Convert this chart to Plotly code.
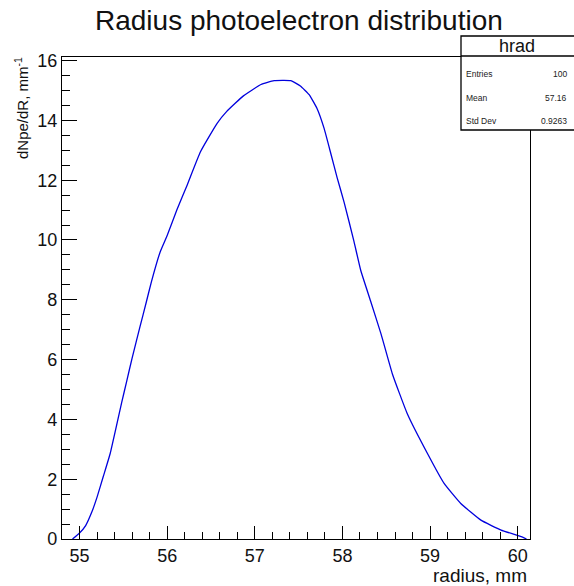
import plotly.graph_objects as go

# Data
radius_mm = [54.92, 55.0, 55.07, 55.14, 55.2, 55.27, 55.35, 55.41, 55.48, 55.54,
             55.6, 55.69, 55.76, 55.82, 55.92, 56.0, 56.11, 56.23, 56.38, 56.57,
             56.68, 56.87, 57.07, 57.22, 57.41, 57.52, 57.62, 57.71, 57.79, 57.87,
             57.94, 58.02, 58.13, 58.21, 58.32, 58.44, 58.57, 58.74, 58.97, 59.16,
             59.35, 59.58, 59.81, 60.04, 60.1]
dnpe_dr = [0.0, 0.2, 0.45, 0.9, 1.4, 2.08, 2.86, 3.63, 4.55, 5.3,
           6.05, 7.1, 7.9, 8.6, 9.6, 10.15, 11.0, 11.85, 12.95, 13.9,
           14.3, 14.82, 15.2, 15.33, 15.33, 15.15, 14.86, 14.4, 13.74, 12.86,
           12.08, 11.25, 9.97, 8.97, 7.97, 6.86, 5.52, 4.19, 2.86, 1.86,
           1.19, 0.63, 0.3, 0.08, 0.0]

x_ticks = [55, 56, 57, 58, 59, 60]
y_ticks = [0, 2, 4, 6, 8, 10, 12, 14, 16]
stats_names = ["Entries", "Mean", "Std Dev"]
stats_values = ["100", "57.16", "0.9263"]

W, H = 574, 586
L, R, T, B = 62, 530, 57, 539  # plot frame in px


def px(x):
    return (x - L) / (R - L)


def py(y):
    return (B - y) / (B - T)


FONT = "Liberation Sans, Arial, Helvetica, sans-serif"

fig = go.Figure()
fig.add_trace(go.Scatter(x=radius_mm, y=dnpe_dr, mode="lines",
                         line=dict(color="#0000dd", width=1.3, shape="spline", smoothing=0.4),
                         showlegend=False, hoverinfo="skip"))

axis_common = dict(showgrid=False, zeroline=False, showline=True, linecolor="black",
                   linewidth=1.3, mirror=True, ticks="inside", tickcolor="black",
                   tickwidth=1.3, tickfont=dict(family=FONT, size=18, color="#111"))

fig.update_xaxes(range=[54.8, 60.14], tickvals=x_ticks, ticklen=13,
                 minor=dict(dtick=0.2, tick0=55, ticklen=7, ticks="inside",
                            tickcolor="black", tickwidth=1.2),
                 **axis_common)
fig.update_yaxes(range=[0, 16.12], tickvals=y_ticks, ticklen=15,
                 minor=dict(dtick=0.5, tick0=0, ticklen=8, ticks="inside",
                            tickcolor="black", tickwidth=1.2),
                 **axis_common)

annotations = [
    dict(text="Radius photoelectron distribution", x=px(299), y=py(20), xref="paper",
         yref="paper", xanchor="center", yanchor="middle", showarrow=False,
         font=dict(family=FONT, size=28, color="#111")),
    dict(text="dNpe/dR, mm<sup>-1</sup>", x=px(21), y=py(55), xref="paper", yref="paper",
         xanchor="center", yanchor="top", textangle=-90, showarrow=False,
         font=dict(family=FONT, size=15, color="#111")),
    dict(text="radius, mm", x=px(529), y=py(575), xref="paper", yref="paper",
         xanchor="right", yanchor="middle", showarrow=False,
         font=dict(family=FONT, size=19, color="#111")),
    dict(text="hrad", x=px(517), y=py(46), xref="paper", yref="paper",
         xanchor="center", yanchor="middle", showarrow=False,
         font=dict(family=FONT, size=18, color="#111")),
]
for i, (n, v) in enumerate(zip(stats_names, stats_values)):
    yy = 74 + 23.5 * i
    annotations.append(dict(text=n, x=px(464), y=py(yy), xref="paper", yref="paper",
                            xanchor="left", yanchor="middle", showarrow=False,
                            font=dict(family=FONT, size=8.5, color="#222")))
    annotations.append(dict(text=v, x=px(569), y=py(yy), xref="paper", yref="paper",
                            xanchor="right", yanchor="middle", showarrow=False,
                            font=dict(family=FONT, size=8.5, color="#222")))

shapes = [
    dict(type="rect", xref="paper", yref="paper", x0=px(461), x1=px(578),
         y0=py(130), y1=py(36), line=dict(color="black", width=1.3),
         fillcolor="white", layer="above"),
    dict(type="line", xref="paper", yref="paper", x0=px(461), x1=px(578),
         y0=py(56), y1=py(56), line=dict(color="black", width=1.3), layer="above"),
]

fig.update_layout(width=W, height=H, margin=dict(l=L, r=W - R, t=T, b=H - B),
                  paper_bgcolor="white", plot_bgcolor="white",
                  annotations=annotations, shapes=shapes)

fig.write_html("out.html")
